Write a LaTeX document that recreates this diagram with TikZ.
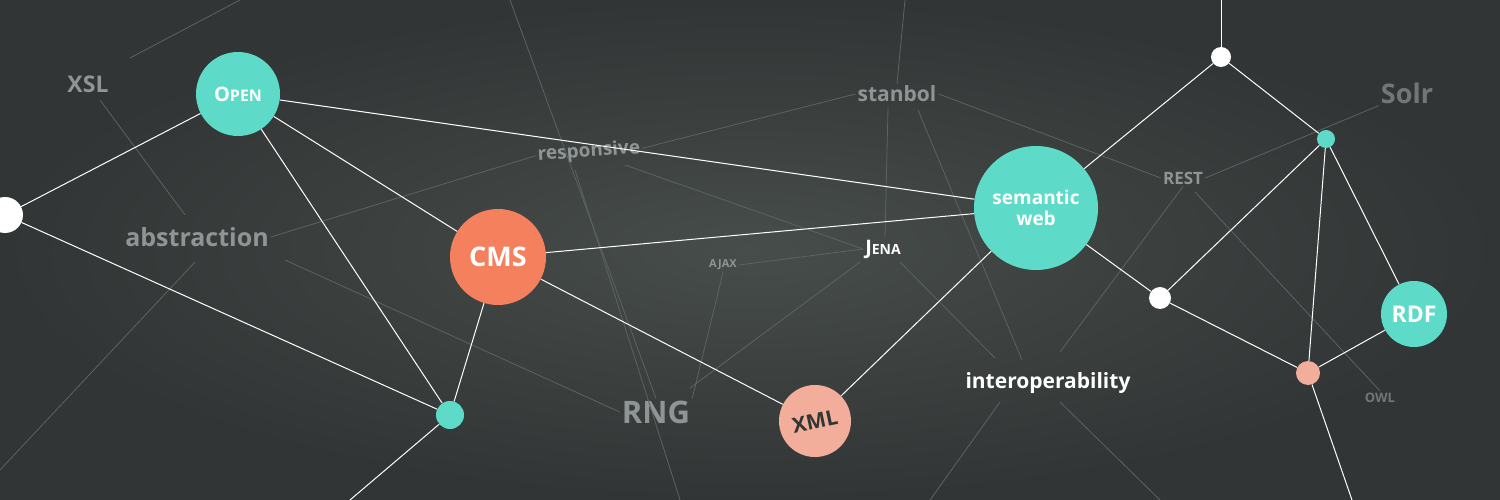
\documentclass[tikz,border=0pt]{standalone}
\usepackage{fontspec}
\setmainfont{Open Sans}
\definecolor{bgin}{HTML}{474D4B}
\definecolor{bgout}{HTML}{313535}
\definecolor{teal}{HTML}{5DDBC8}
\definecolor{coral}{HTML}{F5805E}
\definecolor{pinkish}{HTML}{F2AE9A}
\definecolor{faint}{HTML}{5C6362}
\definecolor{lbl}{HTML}{8F9594}
\tikzset{
  bub/.style={circle,fill=#1,text=white,font=\bfseries,align=center,inner sep=0pt},
  dot/.style={circle,fill=#1,inner sep=0pt},
  tag/.style={text=lbl,font=\bfseries,inner sep=2pt},
  link/.style={draw=white,line width=1pt},
  ghost/.style={draw=faint,line width=0.8pt}
}
\begin{document}
\begin{tikzpicture}[x=1pt,y=-1pt]
  \useasboundingbox (0,0) rectangle (1500,500);
  \shade[inner color=bgin,outer color=bgout] (0,0) rectangle (1500,500);
  %labels
  \node[tag,font=\bfseries\fontsize{23}{23}\selectfont] (xsl) at (88,84) {XSL};
  \node[tag,font=\bfseries\fontsize{25}{25}\selectfont] (abs) at (197,237) {abstraction};
  \node[tag,font=\bfseries\fontsize{19}{19}\selectfont,rotate=4] (resp) at (589,152) {responsive};
  \node[tag,font=\bfseries\fontsize{21}{21}\selectfont] (stan) at (897,94) {stanbol};
  \node[tag,font=\bfseries\fontsize{17}{17}\selectfont] (rest) at (1183,178) {REST};
  \node[tag,font=\bfseries\fontsize{27}{27}\selectfont,text=lbl!80!black] (solr) at (1407,93) {Solr};
  \node[tag,font=\bfseries\fontsize{11}{11}\selectfont] (ajax) at (723,265) {AJAX};
  \node[tag,text=white,font=\bfseries\fontsize{20}{20}\selectfont] (jena) at (883,249) {J\fontsize{14}{14}\selectfont ENA};
  \node[tag,text=white,font=\bfseries\fontsize{21}{21}\selectfont] (inter) at (1048,383) {interoperability};
  \node[tag,font=\bfseries\fontsize{31}{31}\selectfont] (rng) at (656,412) {RNG};
  \node[tag,font=\bfseries\fontsize{13}{13}\selectfont,text=lbl!80!black] (owl) at (1380,398) {OWL};
  \coordinate (t1) at (240,0); \coordinate (t2) at (510,0); \coordinate (t3) at (905,0);
  \coordinate (b1) at (0,470); \coordinate (b2) at (680,500); \coordinate (b3) at (930,500);
  \coordinate (b4) at (1160,500); \coordinate (l1) at (130,58);
  %faint lines
  \draw[ghost] (l1)--(t1);
  \draw[ghost] (100,100)--(185,215);
  \draw[ghost] (abs.east)--(resp.west); \draw[ghost] (resp.east)--(stan.west);
  \draw[ghost] (285,260)--(rng.west);
  \draw[ghost] (195,262)--(b1);
  \draw[ghost] (t2)--(rng.north);
  \draw[ghost] (575,170)--(b2);
  \draw[ghost] (625,165)--(jena.west);
  \draw[ghost] (t3)--(stan.north); \draw[ghost] (888,108)--(885,238);
  \draw[ghost] (ajax.east)--(jena.west);
  \draw[ghost] (ajax.south)--(rng.north east);
  \draw[ghost] (860,262)--(690,388);
  \draw[ghost] (stan.east)--(rest.west);
  \draw[ghost] (918,110)--(1022,360);
  \draw[ghost] (900,262)--(995,358);
  \draw[ghost] (rest.south)--(1060,352);
  \draw[ghost] (rest.east)--(solr.south west);
  \draw[ghost] (1195,192)--(owl.north);
  \draw[ghost] (1060,402)--(b4); \draw[ghost] (1000,402)--(b3);
  %bubbles
  \node[dot=white,minimum size=36pt] (w0) at (5,215) {};
  \node[bub=teal,minimum size=84pt,font=\bfseries\fontsize{20}{20}\selectfont] (open) at (238,94) {O\fontsize{16}{16}\selectfont PEN};
  \node[bub=coral,minimum size=96pt,font=\bfseries\fontsize{27}{27}\selectfont] (cms) at (498,257) {CMS};
  \node[bub=teal,minimum size=124pt,font=\bfseries\fontsize{19}{21}\selectfont] (sem) at (1036,208) {semantic\\web};
  \node[bub=pinkish,minimum size=72pt,text=bgout,font=\bfseries\fontsize{21}{21}\selectfont,rotate=12] (xml) at (815,421) {XML};
  \node[bub=teal,minimum size=66pt,font=\bfseries\fontsize{23}{23}\selectfont] (rdf) at (1414,314) {RDF};
  \node[dot=teal,minimum size=28pt] (g1) at (450,415) {};
  \node[dot=white,minimum size=20pt] (w1) at (1221,57) {};
  \node[dot=teal,minimum size=18pt] (g2) at (1326,139) {};
  \node[dot=white,minimum size=22pt] (w2) at (1160,298) {};
  \node[dot=pinkish,minimum size=24pt] (p1) at (1308,373) {};
  \coordinate (e1) at (350,500); \coordinate (e2) at (1221,0); \coordinate (e3) at (1352,500);
  %links
  \draw[link] (w0)--(open); \draw[link] (w0)--(g1);
  \draw[link] (open)--(cms); \draw[link] (open)--(g1); \draw[link] (open)--(sem);
  \draw[link] (cms)--(sem); \draw[link] (cms)--(g1); \draw[link] (cms)--(xml);
  \draw[link] (g1)--(e1); \draw[link] (xml)--(sem);
  \draw[link] (sem)--(w1); \draw[link] (w1)--(e2); \draw[link] (w1)--(g2);
  \draw[link] (sem)--(w2); \draw[link] (w2)--(g2); \draw[link] (w2)--(p1);
  \draw[link] (g2)--(p1); \draw[link] (g2)--(rdf); \draw[link] (rdf)--(p1);
  \draw[link] (p1)--(e3);
\end{tikzpicture}
\end{document}
